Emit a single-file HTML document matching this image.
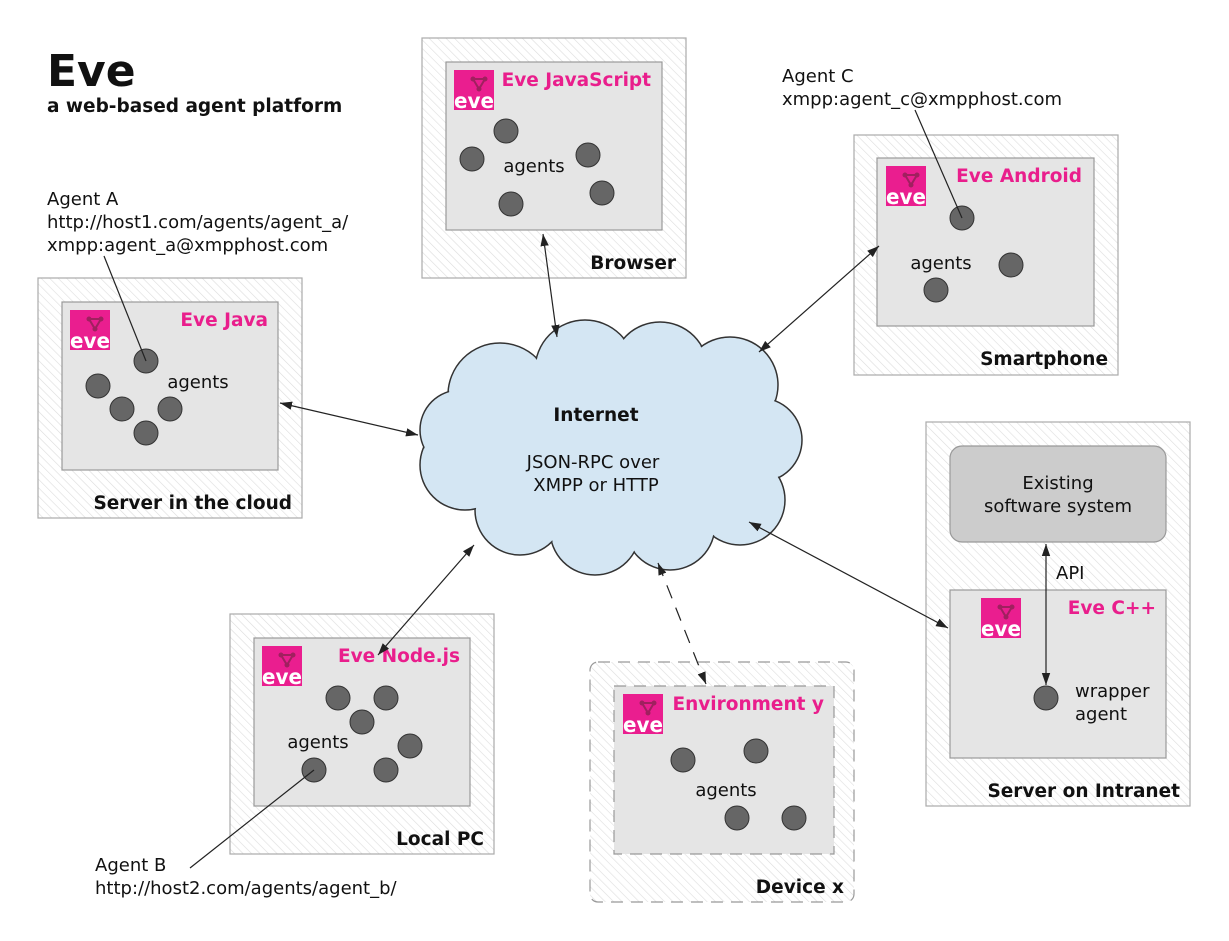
<!DOCTYPE html>
<html><head><meta charset="utf-8"><style>body{margin:0;background:#fff}svg{display:block}</style></head><body>
<svg width="1229" height="941" xmlns="http://www.w3.org/2000/svg" font-family="'DejaVu Sans','Liberation Sans',sans-serif">
<defs>
<pattern id="h" width="6" height="6" patternUnits="userSpaceOnUse" patternTransform="rotate(-45)"><rect width="6" height="6" fill="#fff"/><line x1="0" y1="0" x2="0" y2="6" stroke="#ddd" stroke-width="1.2"/></pattern>
<marker id="a" viewBox="0 0 10 10" refX="10" refY="5" markerWidth="10" markerHeight="10" orient="auto-start-reverse"><path d="M0,1.5 L10,5 L0,8.5 Z" fill="#222"/></marker>
<g id="logo"><rect width="40" height="40" fill="#ea1e8f"/><path d="M19,9 L31,9 L25,19 Z" fill="none" stroke="#a0205f" stroke-width="2"/><circle cx="19" cy="9" r="2.5" fill="#a0205f"/><circle cx="31" cy="9" r="2.5" fill="#a0205f"/><circle cx="25" cy="19" r="2.5" fill="#a0205f"/><text x="20" y="38" text-anchor="middle" font-family="'DejaVu Sans',sans-serif" font-size="21" font-weight="bold" fill="#fff" textLength="40" lengthAdjust="spacingAndGlyphs">eve</text></g>
</defs>
<style>.o{fill:url(#h);stroke:#aaa;stroke-width:1.2}.i{fill:#e5e5e5;stroke:#999;stroke-width:1.2}.t{font-size:18.5px;font-weight:bold;fill:#e91e8c}.b{font-size:18.5px;font-weight:bold;fill:#111}.n{font-size:18px;fill:#111}.ag{fill:#666;stroke:#333;stroke-width:1}.l{stroke:#222;stroke-width:1.2;fill:none}</style>

<text x="47" y="86" font-size="44" font-weight="bold" fill="#111">Eve</text>
<text x="47" y="112" class="b" font-size="19">a web-based agent platform</text>

<rect class="o" x="422" y="38" width="264" height="240"/>
<rect class="i" x="446" y="62" width="216" height="168"/>
<use href="#logo" x="454" y="70"/>
<text x="651" y="86" class="t" text-anchor="end">Eve JavaScript</text>
<text x="534" y="172" class="n" text-anchor="middle">agents</text>
<circle class="ag" cx="506" cy="131" r="12"/><circle class="ag" cx="472" cy="159" r="12"/><circle class="ag" cx="588" cy="155" r="12"/><circle class="ag" cx="602" cy="193" r="12"/><circle class="ag" cx="511" cy="204" r="12"/>
<text x="676" y="269" class="b" text-anchor="end">Browser</text>

<rect class="o" x="854" y="135" width="264" height="240"/>
<rect class="i" x="877" y="158" width="217" height="168"/>
<use href="#logo" x="886" y="166"/>
<text x="1082" y="182" class="t" text-anchor="end">Eve Android</text>
<text x="941" y="269" class="n" text-anchor="middle">agents</text>
<circle class="ag" cx="962" cy="218" r="12"/><circle class="ag" cx="1011" cy="265" r="12"/><circle class="ag" cx="936" cy="290" r="12"/>
<text x="1108" y="365" class="b" text-anchor="end">Smartphone</text>
<text x="782" y="82" class="n">Agent C</text>
<text x="782" y="105" class="n">xmpp:agent_c@xmpphost.com</text>
<line class="l" x1="915" y1="110" x2="962" y2="218"/>

<rect class="o" x="38" y="278" width="264" height="240"/>
<rect class="i" x="62" y="302" width="216" height="168"/>
<use href="#logo" x="70" y="310"/>
<text x="268" y="326" class="t" text-anchor="end">Eve Java</text>
<text x="198" y="388" class="n" text-anchor="middle">agents</text>
<circle class="ag" cx="146" cy="361" r="12"/><circle class="ag" cx="98" cy="386" r="12"/><circle class="ag" cx="122" cy="409" r="12"/><circle class="ag" cx="170" cy="409" r="12"/><circle class="ag" cx="146" cy="433" r="12"/>
<text x="292" y="509" class="b" text-anchor="end">Server in the cloud</text>
<text x="47" y="205" class="n">Agent A</text>
<text x="47" y="228" class="n">http://host1.com/agents/agent_a/</text>
<text x="47" y="251" class="n">xmpp:agent_a@xmpphost.com</text>
<line class="l" x1="104" y1="256" x2="146" y2="361"/>

<rect class="o" x="926" y="422" width="264" height="384"/>
<rect x="950" y="446" width="216" height="96" rx="12" fill="#cccccc" stroke="#999" stroke-width="1.2"/>
<text x="1058" y="489" class="n" text-anchor="middle">Existing</text>
<text x="1058" y="512" class="n" text-anchor="middle">software system</text>
<rect class="i" x="950" y="590" width="216" height="168"/>
<use href="#logo" x="981" y="598"/>
<text x="1156" y="614" class="t" text-anchor="end">Eve C++</text>
<text x="1056" y="579" class="n">API</text>
<text x="1075" y="697" class="n">wrapper</text>
<text x="1075" y="720" class="n">agent</text>
<circle class="ag" cx="1046" cy="698" r="12"/>
<line class="l" x1="1046" y1="544" x2="1046" y2="685" marker-start="url(#a)" marker-end="url(#a)"/>
<text x="1180" y="797" class="b" text-anchor="end">Server on Intranet</text>

<rect class="o" x="230" y="614" width="264" height="240"/>
<rect class="i" x="254" y="638" width="216" height="168"/>
<use href="#logo" x="262" y="646"/>
<text x="460" y="662" class="t" text-anchor="end">Eve Node.js</text>
<text x="318" y="748" class="n" text-anchor="middle">agents</text>
<circle class="ag" cx="338" cy="698" r="12"/><circle class="ag" cx="386" cy="698" r="12"/><circle class="ag" cx="362" cy="722" r="12"/><circle class="ag" cx="410" cy="746" r="12"/><circle class="ag" cx="314" cy="770" r="12"/><circle class="ag" cx="386" cy="770" r="12"/>
<text x="484" y="845" class="b" text-anchor="end">Local PC</text>
<text x="95" y="871" class="n">Agent B</text>
<text x="95" y="894" class="n">http://host2.com/agents/agent_b/</text>
<line class="l" x1="190" y1="868" x2="314" y2="770"/>

<rect x="590" y="662" width="264" height="240" rx="8" fill="url(#h)" stroke="#999" stroke-width="1.2" stroke-dasharray="12,8"/>
<rect x="614" y="686" width="220" height="168" fill="#e5e5e5" stroke="#999" stroke-width="1.2" stroke-dasharray="12,8"/>
<use href="#logo" x="623" y="694"/>
<text x="824" y="710" class="t" text-anchor="end">Environment y</text>
<text x="726" y="796" class="n" text-anchor="middle">agents</text>
<circle class="ag" cx="683" cy="760" r="12"/><circle class="ag" cx="756" cy="751" r="12"/><circle class="ag" cx="737" cy="818" r="12"/><circle class="ag" cx="794" cy="818" r="12"/>
<text x="844" y="893" class="b" text-anchor="end">Device x</text>

<g stroke="#333" stroke-width="1.5" fill="#d4e6f3">
<circle cx="500" cy="395" r="52"/><circle cx="585" cy="370" r="50"/><circle cx="660" cy="370" r="48"/><circle cx="730" cy="385" r="48"/>
<circle cx="760" cy="440" r="42"/><circle cx="740" cy="500" r="45"/><circle cx="670" cy="525" r="45"/><circle cx="595" cy="530" r="45"/>
<circle cx="520" cy="510" r="45"/><circle cx="465" cy="465" r="45"/><circle cx="460" cy="430" r="40"/>
</g>
<g fill="#d4e6f3">
<circle cx="500" cy="395" r="51"/><circle cx="585" cy="370" r="49"/><circle cx="660" cy="370" r="47"/><circle cx="730" cy="385" r="47"/>
<circle cx="760" cy="440" r="41"/><circle cx="740" cy="500" r="44"/><circle cx="670" cy="525" r="44"/><circle cx="595" cy="530" r="44"/>
<circle cx="520" cy="510" r="44"/><circle cx="465" cy="465" r="44"/><circle cx="460" cy="430" r="39"/>
<ellipse cx="610" cy="450" rx="150" ry="85"/>
</g>
<text x="596" y="421" class="b" text-anchor="middle">Internet</text>
<text x="593" y="468" class="n" text-anchor="middle">JSON-RPC over</text>
<text x="596" y="491" class="n" text-anchor="middle">XMPP or HTTP</text>

<line class="l" x1="543" y1="234" x2="557" y2="337" marker-start="url(#a)" marker-end="url(#a)"/>
<line class="l" x1="879" y1="246" x2="759" y2="352" marker-start="url(#a)" marker-end="url(#a)"/>
<line class="l" x1="280" y1="403" x2="418" y2="435" marker-start="url(#a)" marker-end="url(#a)"/>
<line class="l" x1="474" y1="545" x2="378" y2="655" marker-start="url(#a)" marker-end="url(#a)"/>
<line class="l" x1="658" y1="563" x2="706" y2="684" stroke-dasharray="14,10" marker-start="url(#a)" marker-end="url(#a)"/>
<line class="l" x1="749" y1="522" x2="948" y2="628" marker-start="url(#a)" marker-end="url(#a)"/>
</svg>
</body></html>
